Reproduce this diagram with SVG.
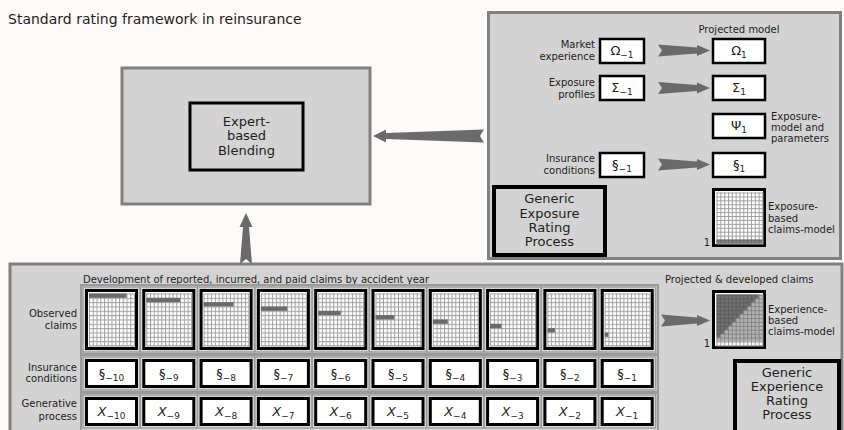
<svg xmlns="http://www.w3.org/2000/svg" xmlns:xlink="http://www.w3.org/1999/xlink" width="844" height="430" viewBox="0 0 844 430">
<style>
text{font-family:"DejaVu Sans","Liberation Sans",sans-serif;fill:#1e1e1e}
.t10{font-size:10px}
.t13{font-size:13px}
.end{text-anchor:end}
.mid{text-anchor:middle}
.panel{fill:#d3d3d3;stroke:#808080;stroke-width:3}
.bx{fill:#fff;stroke:#000;stroke-width:3}
.bx2{fill:#fff;stroke:#000;stroke-width:2.5}
.proc{fill:#d3d3d3;stroke:#000;stroke-width:4}
.frame{fill:none;stroke:#9a9a9a;stroke-width:1.3}
.strip{fill:#d6d6d6;stroke:#9a9a9a;stroke-width:2}
.arr{fill:#6a6a6a;stroke:none}
.bar{fill:#6a6a6a}
.sub{font-size:9px}
.it{font-style:italic}
</style>
<defs>
<pattern id="g1" patternUnits="userSpaceOnUse" width="3.75" height="4.33">
<rect width="3.75" height="4.33" fill="#a0a0a0"/><rect x="1" y="1" width="2.75" height="3.33" fill="#fff"/>
</pattern>
<pattern id="g2" patternUnits="userSpaceOnUse" width="3.83" height="3.92">
<rect width="3.83" height="3.92" fill="#a0a0a0"/><rect x="1" y="1" width="2.83" height="2.92" fill="#fff"/>
</pattern>
<g id="obsgrid"><rect width="46" height="53" fill="#a0a0a0"/><rect width="45" height="52" fill="url(#g1)"/></g>
<g id="modgrid"><rect width="47" height="52" fill="#a0a0a0"/><rect width="46" height="51" fill="url(#g2)"/></g>
</defs>
<rect width="844" height="430" fill="#fffafa"/>
<text x="8" y="24" font-size="14">Standard rating framework in reinsurance</text>

<g id="blending">
<rect x="122" y="68" width="248" height="136" class="panel"/>
<rect x="190" y="103" width="113" height="67" fill="#d3d3d3" stroke="#000" stroke-width="3"/>
<text class="t13 mid" x="246.5" y="126">Expert-</text>
<text class="t13 mid" x="246.5" y="140">based</text>
<text class="t13 mid" x="246.5" y="155">Blending</text>
</g>

<g id="exposure-panel">
<rect x="488.5" y="12.5" width="352" height="246" class="panel"/>
<text class="t10 mid" x="739" y="33">Projected model</text>
<text class="t10 end" x="595" y="48">Market</text>
<text class="t10 end" x="595" y="60">experience</text>
<text class="t10 end" x="595" y="86">Exposure</text>
<text class="t10 end" x="595" y="98">profiles</text>
<text class="t10 end" x="595" y="162">Insurance</text>
<text class="t10 end" x="595" y="174">conditions</text>
<text class="t10" x="771" y="120">Exposure-</text>
<text class="t10" x="771" y="131">model and</text>
<text class="t10" x="771" y="142">parameters</text>
</g>
<g id="omega-prev"><rect x="600" y="39" width="44" height="24" class="bx2"/><text class="t13 mid" x="622" y="55">Ω<tspan class="sub" dy="3">−1</tspan></text></g>
<g id="omega-next"><rect x="713" y="39" width="52" height="24" class="bx2"/><text class="t13 mid" x="739" y="55">Ω<tspan class="sub" dy="3">1</tspan></text></g>
<g id="sigma-prev"><rect x="600" y="76" width="44" height="24" class="bx2"/><text class="t13 mid" x="622" y="92">Σ<tspan class="sub" dy="3">−1</tspan></text></g>
<g id="sigma-next"><rect x="713" y="76" width="52" height="24" class="bx2"/><text class="t13 mid" x="739" y="92">Σ<tspan class="sub" dy="3">1</tspan></text></g>
<g id="psi-next"><rect x="713" y="114" width="52" height="24" class="bx2"/><text class="t13 mid" x="739" y="130">Ψ<tspan class="sub" dy="3">1</tspan></text></g>
<g id="cond-prev"><rect x="600" y="153" width="44" height="24" class="bx2"/><text class="t13 mid" x="622" y="169">§<tspan class="sub" dy="3">−1</tspan></text></g>
<g id="cond-next"><rect x="713" y="153" width="52" height="24" class="bx2"/><text class="t13 mid" x="739" y="169">§<tspan class="sub" dy="3">1</tspan></text></g>
<g id="generic-exposure">
<rect x="494" y="187" width="111" height="68" class="proc"/>
<text class="t13 mid" x="549.5" y="203">Generic</text>
<text class="t13 mid" x="549.5" y="218">Exposure</text>
<text class="t13 mid" x="549.5" y="232">Rating</text>
<text class="t13 mid" x="549.5" y="246">Process</text>
</g>
<g id="exposure-model">
<rect x="713.5" y="189.5" width="51" height="56" class="bx"/>
<use xlink:href="#modgrid" x="716.5" y="192.5"/>
<rect x="716.5" y="239.54" width="46" height="3.92" fill="#5a5a5a" opacity="0.8"/>
<text class="t10 mid" x="707" y="246">1</text>
<text class="t10" x="768" y="210">Exposure-</text>
<text class="t10" x="768" y="222">based</text>
<text class="t10" x="768" y="233">claims-model</text>
</g>

<g id="experience-panel">
<rect x="10" y="264" width="832" height="180" class="panel"/>
<text class="t10" x="83" y="283">Development of reported, incurred, and paid claims by accident year</text>
<text class="t10" x="665" y="283">Projected &amp; developed claims</text>
<text class="t10 end" x="77" y="317">Observed</text>
<text class="t10 end" x="77" y="329">claims</text>
<text class="t10 end" x="77" y="371">Insurance</text>
<text class="t10 end" x="77" y="382">conditions</text>
<text class="t10 end" x="77" y="407">Generative</text>
<text class="t10 end" x="77" y="420">process</text>
<rect x="81" y="285" width="577" height="69" class="strip"/>
<rect x="81" y="355" width="577" height="37" class="strip"/>
<rect x="81" y="393" width="577" height="40" class="strip"/>
</g>

<g id="observed-claims">
<g id="obs-10"><rect x="83" y="287" width="57" height="65" class="frame"/><rect x="86.5" y="290.5" width="50" height="58" class="bx"/><use xlink:href="#obsgrid" x="89" y="293.5"/><rect x="89" y="293.5" width="37.5" height="4.33" class="bar"/></g>
<g id="obs-9"><rect x="140.3" y="287" width="57" height="65" class="frame"/><rect x="143.8" y="290.5" width="50" height="58" class="bx"/><use xlink:href="#obsgrid" x="146.3" y="293.5"/><rect x="146.3" y="297.83" width="33.75" height="4.33" class="bar"/></g>
<g id="obs-8"><rect x="197.6" y="287" width="57" height="65" class="frame"/><rect x="201.1" y="290.5" width="50" height="58" class="bx"/><use xlink:href="#obsgrid" x="203.6" y="293.5"/><rect x="203.6" y="302.16" width="30" height="4.33" class="bar"/></g>
<g id="obs-7"><rect x="254.9" y="287" width="57" height="65" class="frame"/><rect x="258.4" y="290.5" width="50" height="58" class="bx"/><use xlink:href="#obsgrid" x="260.9" y="293.5"/><rect x="260.9" y="306.49" width="26.25" height="4.33" class="bar"/></g>
<g id="obs-6"><rect x="312.2" y="287" width="57" height="65" class="frame"/><rect x="315.7" y="290.5" width="50" height="58" class="bx"/><use xlink:href="#obsgrid" x="318.2" y="293.5"/><rect x="318.2" y="310.82" width="22.5" height="4.33" class="bar"/></g>
<g id="obs-5"><rect x="369.5" y="287" width="57" height="65" class="frame"/><rect x="373" y="290.5" width="50" height="58" class="bx"/><use xlink:href="#obsgrid" x="375.5" y="293.5"/><rect x="375.5" y="315.15" width="18.75" height="4.33" class="bar"/></g>
<g id="obs-4"><rect x="426.8" y="287" width="57" height="65" class="frame"/><rect x="430.3" y="290.5" width="50" height="58" class="bx"/><use xlink:href="#obsgrid" x="432.8" y="293.5"/><rect x="432.8" y="319.48" width="15" height="4.33" class="bar"/></g>
<g id="obs-3"><rect x="484.1" y="287" width="57" height="65" class="frame"/><rect x="487.6" y="290.5" width="50" height="58" class="bx"/><use xlink:href="#obsgrid" x="490.1" y="293.5"/><rect x="490.1" y="323.81" width="11.25" height="4.33" class="bar"/></g>
<g id="obs-2"><rect x="541.4" y="287" width="57" height="65" class="frame"/><rect x="544.9" y="290.5" width="50" height="58" class="bx"/><use xlink:href="#obsgrid" x="547.4" y="293.5"/><rect x="547.4" y="328.14" width="7.5" height="4.33" class="bar"/></g>
<g id="obs-1"><rect x="598.7" y="287" width="57" height="65" class="frame"/><rect x="602.2" y="290.5" width="50" height="58" class="bx"/><use xlink:href="#obsgrid" x="604.7" y="293.5"/><rect x="604.7" y="332.47" width="3.75" height="4.33" class="bar"/></g>
</g>

<g id="insurance-conditions">
<g id="ic-10"><rect x="83" y="357" width="57" height="33" class="frame"/><rect x="86.5" y="360.5" width="50" height="26" class="bx"/><text class="t13 mid" x="111.5" y="378">§<tspan class="sub" dy="3">−10</tspan></text></g>
<g id="ic-9"><rect x="140.3" y="357" width="57" height="33" class="frame"/><rect x="143.8" y="360.5" width="50" height="26" class="bx"/><text class="t13 mid" x="168.8" y="378">§<tspan class="sub" dy="3">−9</tspan></text></g>
<g id="ic-8"><rect x="197.6" y="357" width="57" height="33" class="frame"/><rect x="201.1" y="360.5" width="50" height="26" class="bx"/><text class="t13 mid" x="226.1" y="378">§<tspan class="sub" dy="3">−8</tspan></text></g>
<g id="ic-7"><rect x="254.9" y="357" width="57" height="33" class="frame"/><rect x="258.4" y="360.5" width="50" height="26" class="bx"/><text class="t13 mid" x="283.4" y="378">§<tspan class="sub" dy="3">−7</tspan></text></g>
<g id="ic-6"><rect x="312.2" y="357" width="57" height="33" class="frame"/><rect x="315.7" y="360.5" width="50" height="26" class="bx"/><text class="t13 mid" x="340.7" y="378">§<tspan class="sub" dy="3">−6</tspan></text></g>
<g id="ic-5"><rect x="369.5" y="357" width="57" height="33" class="frame"/><rect x="373" y="360.5" width="50" height="26" class="bx"/><text class="t13 mid" x="398" y="378">§<tspan class="sub" dy="3">−5</tspan></text></g>
<g id="ic-4"><rect x="426.8" y="357" width="57" height="33" class="frame"/><rect x="430.3" y="360.5" width="50" height="26" class="bx"/><text class="t13 mid" x="455.3" y="378">§<tspan class="sub" dy="3">−4</tspan></text></g>
<g id="ic-3"><rect x="484.1" y="357" width="57" height="33" class="frame"/><rect x="487.6" y="360.5" width="50" height="26" class="bx"/><text class="t13 mid" x="512.6" y="378">§<tspan class="sub" dy="3">−3</tspan></text></g>
<g id="ic-2"><rect x="541.4" y="357" width="57" height="33" class="frame"/><rect x="544.9" y="360.5" width="50" height="26" class="bx"/><text class="t13 mid" x="569.9" y="378">§<tspan class="sub" dy="3">−2</tspan></text></g>
<g id="ic-1"><rect x="598.7" y="357" width="57" height="33" class="frame"/><rect x="602.2" y="360.5" width="50" height="26" class="bx"/><text class="t13 mid" x="627.2" y="378">§<tspan class="sub" dy="3">−1</tspan></text></g>
</g>

<g id="generative-process">
<g id="gp-10"><rect x="83" y="395" width="57" height="33" class="frame"/><rect x="86.5" y="398.5" width="50" height="26" class="bx"/><text class="t13 mid" x="111.5" y="416"><tspan class="it">X</tspan><tspan class="sub" dy="3">−10</tspan></text></g>
<g id="gp-9"><rect x="140.3" y="395" width="57" height="33" class="frame"/><rect x="143.8" y="398.5" width="50" height="26" class="bx"/><text class="t13 mid" x="168.8" y="416"><tspan class="it">X</tspan><tspan class="sub" dy="3">−9</tspan></text></g>
<g id="gp-8"><rect x="197.6" y="395" width="57" height="33" class="frame"/><rect x="201.1" y="398.5" width="50" height="26" class="bx"/><text class="t13 mid" x="226.1" y="416"><tspan class="it">X</tspan><tspan class="sub" dy="3">−8</tspan></text></g>
<g id="gp-7"><rect x="254.9" y="395" width="57" height="33" class="frame"/><rect x="258.4" y="398.5" width="50" height="26" class="bx"/><text class="t13 mid" x="283.4" y="416"><tspan class="it">X</tspan><tspan class="sub" dy="3">−7</tspan></text></g>
<g id="gp-6"><rect x="312.2" y="395" width="57" height="33" class="frame"/><rect x="315.7" y="398.5" width="50" height="26" class="bx"/><text class="t13 mid" x="340.7" y="416"><tspan class="it">X</tspan><tspan class="sub" dy="3">−6</tspan></text></g>
<g id="gp-5"><rect x="369.5" y="395" width="57" height="33" class="frame"/><rect x="373" y="398.5" width="50" height="26" class="bx"/><text class="t13 mid" x="398" y="416"><tspan class="it">X</tspan><tspan class="sub" dy="3">−5</tspan></text></g>
<g id="gp-4"><rect x="426.8" y="395" width="57" height="33" class="frame"/><rect x="430.3" y="398.5" width="50" height="26" class="bx"/><text class="t13 mid" x="455.3" y="416"><tspan class="it">X</tspan><tspan class="sub" dy="3">−4</tspan></text></g>
<g id="gp-3"><rect x="484.1" y="395" width="57" height="33" class="frame"/><rect x="487.6" y="398.5" width="50" height="26" class="bx"/><text class="t13 mid" x="512.6" y="416"><tspan class="it">X</tspan><tspan class="sub" dy="3">−3</tspan></text></g>
<g id="gp-2"><rect x="541.4" y="395" width="57" height="33" class="frame"/><rect x="544.9" y="398.5" width="50" height="26" class="bx"/><text class="t13 mid" x="569.9" y="416"><tspan class="it">X</tspan><tspan class="sub" dy="3">−2</tspan></text></g>
<g id="gp-1"><rect x="598.7" y="395" width="57" height="33" class="frame"/><rect x="602.2" y="398.5" width="50" height="26" class="bx"/><text class="t13 mid" x="627.2" y="416"><tspan class="it">X</tspan><tspan class="sub" dy="3">−1</tspan></text></g>
</g>

<g id="experience-model">
<rect x="713.5" y="291.5" width="51" height="56" class="bx"/>
<use xlink:href="#modgrid" x="716.5" y="294.5"/>
<rect x="716.5" y="294.5" width="46" height="47.04" fill="#6a6a6a" opacity="0.5"/>
<path transform="translate(716.5 294.5)" fill="#3a3a3a" opacity="0.55" d="M0,0 H42.13 V3.92 H38.3 V7.84 H34.47 V11.76 H30.64 V15.68 H26.81 V19.6 H22.98 V23.52 H19.15 V27.44 H15.32 V31.36 H11.49 V35.28 H7.66 V39.2 H3.83 V43.12 H0 Z"/>
<text class="t10 mid" x="707" y="347">1</text>
<text class="t10" x="768" y="313">Experience-</text>
<text class="t10" x="768" y="324">based</text>
<text class="t10" x="768" y="335">claims-model</text>
</g>

<g id="generic-experience">
<rect x="735" y="361" width="104" height="80" class="proc"/>
<text class="t13 mid" x="787" y="376.5">Generic</text>
<text class="t13 mid" x="787" y="390.8">Experience</text>
<text class="t13 mid" x="787" y="405.1">Rating</text>
<text class="t13 mid" x="787" y="419.4">Process</text>
</g>

<g id="connectors">
<path class="arr" d="M484,129.5 L386,133 L386,129.5 L373,136 L386,142.5 L386,139 L484,142.5 L480,136 Z"/>
<path class="arr" d="M240,264 L243,227 L239.5,227 L246,213 L252.5,227 L249,227 L252,264 L246,259 Z"/>
<path class="arr" d="M658,44.5 L697,47.5 L697,45 L710,50.5 L697,56 L697,53.5 L658,56.5 L662,50.5 Z"/>
<path class="arr" d="M658,82 L697,85 L697,82.5 L710,88 L697,93.5 L697,91 L658,94 L662,88 Z"/>
<path class="arr" d="M658,158.5 L697,161.5 L697,159 L710,164.5 L697,170 L697,167.5 L658,170.5 L662,164.5 Z"/>
<path class="arr" d="M661,314.5 L697,317.5 L697,315 L710,320.5 L697,326 L697,323.5 L661,326.5 L665,320.5 Z"/>
</g>
</svg>
